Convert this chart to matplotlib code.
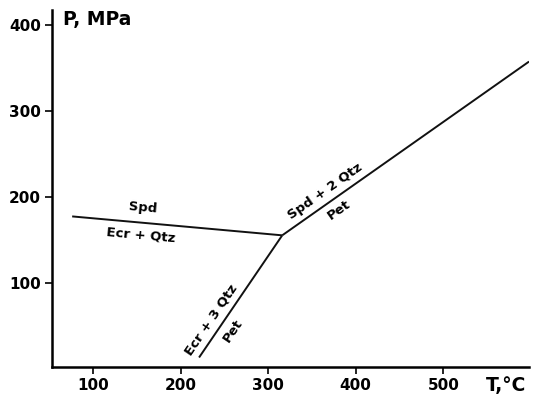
import numpy as np
import matplotlib
matplotlib.use('Agg')
import matplotlib.pyplot as plt

# reaction lines meeting at the invariant point
T_inv, P_inv = 316, 155
spd_T = [76, T_inv]
spd_P = [177, P_inv]
ecr_T = [221, T_inv]
ecr_P = [13, P_inv]
pet_T = [T_inv, 598]
pet_P = [P_inv, 357]

x_ticks = [100, 200, 300, 400, 500]
y_ticks = [100, 200, 300, 400]

plt.rcParams['font.family'] = ['DejaVu Sans']
plt.rcParams['font.weight'] = 'bold'

fig = plt.figure(figsize=(5.33, 3.98), dpi=100)
ax = fig.add_axes([0.0976, 0.078, 0.895, 0.897])
ax.set_xlim(53, 598)
ax.set_ylim(2, 417)

for xs, ys in [(spd_T, spd_P), (ecr_T, ecr_P), (pet_T, pet_P)]:
    ax.plot(xs, ys, color='#111111', lw=1.4, solid_capstyle='butt')

ax.spines['top'].set_visible(False)
ax.spines['right'].set_visible(False)
ax.spines['left'].set_linewidth(1.8)
ax.spines['bottom'].set_linewidth(1.8)
ax.set_xticks(x_ticks)
ax.set_yticks(y_ticks)
ax.tick_params(axis='both', length=5, width=1.2, labelsize=11, pad=3)
for lab in ax.get_xticklabels() + ax.get_yticklabels():
    lab.set_fontweight('bold')

ax.text(66, 406, 'P, MPa', fontsize=13.5, fontweight='bold', ha='left', va='center')
ax.text(549, -20, 'T,°C', fontsize=13.5, fontweight='bold', ha='left', va='center', clip_on=False)


def angle(xs, ys):
    p = ax.transData.transform(np.column_stack([xs, ys]))
    d = p[1] - p[0]
    return np.degrees(np.arctan2(d[1], d[0]))


a_spd = angle(spd_T, spd_P)
a_ecr = angle(ecr_T, ecr_P)
a_pet = angle(pet_T, pet_P)

kw = dict(fontsize=9.5, fontweight='bold', ha='center', va='center', rotation_mode='anchor')
ax.text(157, 187, 'Spd', rotation=a_spd, **kw)
ax.text(154, 155, 'Ecr + Qtz', rotation=a_spd, **kw)
ax.text(365, 206, 'Spd + 2 Qtz', rotation=a_pet, **kw)
ax.text(381, 184, 'Pet', rotation=a_pet, **kw)
ax.text(235, 57, 'Ecr + 3 Qtz', rotation=a_ecr, **kw)
ax.text(260, 44, 'Pet', rotation=a_ecr, **kw)

fig.savefig('out.png', dpi=100)
